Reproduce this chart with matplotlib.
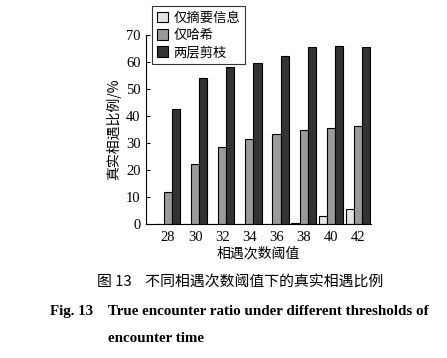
import numpy as np
import matplotlib
matplotlib.use("Agg")
import matplotlib.pyplot as plt
from matplotlib.patches import Patch

plt.rcParams['font.family'] = ['Liberation Serif', 'Noto Sans CJK SC', 'DejaVu Sans']

# data
thresholds = ['28', '30', '32', '34', '36', '38', '40', '42']
summary_only = [0, 0, 0, 0, 0, 0.6, 3.0, 5.6]
hash_only = [11.9, 22.2, 28.5, 31.4, 33.2, 35.0, 35.7, 36.3]
two_layer = [42.6, 54.1, 58.0, 59.5, 62.3, 65.4, 65.8, 65.4]
series_names = ['仅摘要信息', '仅哈希', '两层剪枝']
colors = ['#e4e4e4', '#9a9a9a', '#333333']

fig = plt.figure(figsize=(4.47, 3.58), dpi=100)
ax = fig.add_axes([0.3266, 0.3735, 0.5034, 0.529])

x = np.arange(len(thresholds))
w = 0.30
for i, vals in enumerate([summary_only, hash_only, two_layer]):
    ax.bar(x + (i - 1) * w, vals, width=w, color=colors[i],
           edgecolor='black', linewidth=0.8)

ax.set_xlim(-0.81, 7.48)
ax.set_ylim(0, 70)
ax.set_yticks(range(0, 71, 10))
ax.set_xticks(x)
ax.set_xticklabels(thresholds)
ax.spines['top'].set_visible(False)
ax.spines['right'].set_visible(False)
ax.tick_params(axis='y', direction='in', length=3, labelsize=10.5, pad=4)
ax.tick_params(axis='x', length=0, labelsize=10.5, pad=5)

ax.set_xlabel('相遇次数阈值', fontsize=10, family=['Noto Sans CJK SC'], labelpad=2)
ax.set_ylabel('真实相遇比例/%', fontsize=10, family=['Noto Sans CJK SC', 'DejaVu Sans'], labelpad=3)

handles = [Patch(facecolor=c, edgecolor='black', linewidth=0.8) for c in colors]
leg = fig.legend(handles, series_names, loc='upper left',
                 bbox_to_anchor=(152 / 447, 1 - 6 / 358),
                 prop={'family': 'Noto Sans CJK SC', 'size': 9.6},
                 frameon=True, fancybox=False, edgecolor='black',
                 handlelength=0.85, handleheight=0.85, handletextpad=0.4,
                 labelspacing=0.25, borderpad=0.35, borderaxespad=0)
leg.get_frame().set_linewidth(0.8)

fig.text(0.537, 1 - 283 / 358, '图 13    不同相遇次数阈值下的真实相遇比例',
         ha='center', va='center', fontsize=10.7, family=['Noto Sans CJK SC'])
fig.text(50 / 447, 1 - 311 / 358, 'Fig. 13    True encounter ratio under different thresholds of',
         ha='left', va='center', fontsize=10.8, fontweight='bold', family=['Liberation Serif'])
fig.text(108 / 447, 1 - 338 / 358, 'encounter time',
         ha='left', va='center', fontsize=10.8, fontweight='bold', family=['Liberation Serif'])

fig.savefig('out.png', dpi=100)
